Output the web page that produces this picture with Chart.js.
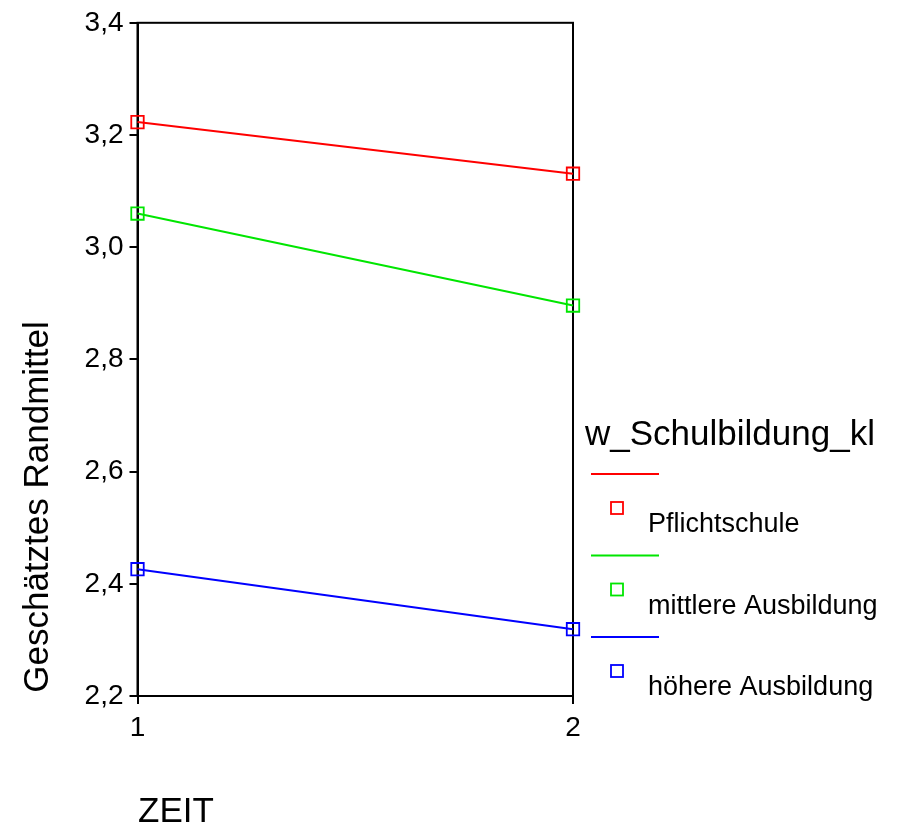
<!DOCTYPE html>
<html>
<head>
<meta charset="utf-8">
<script src="https://cdn.jsdelivr.net/npm/chart.js@4"></script>
<style>
  html, body { margin: 0; padding: 0; background: #fff; }
  #chartCanvas { display: block; }
</style>
</head>
<body>
<canvas id="chartCanvas" width="897" height="827"></canvas>
<script>
// values
const zeit = [1, 2];
const pflichtschule = [3.223, 3.131];
const mittlereAusbildung = [3.060, 2.896];
const hoehereAusbildung = [2.426, 2.319];
const seriesNames = ['Pflichtschule', 'mittlere Ausbildung', 'höhere Ausbildung'];
const seriesColors = ['rgb(255,0,0)', 'rgb(0,230,0)', 'rgb(0,0,255)'];
const yTicks = [2.2, 2.4, 2.6, 2.8, 3.0, 3.2, 3.4];

const legendTitle = 'w_Schulbildung_kl';
const yTitle = 'Geschätztes Randmittel';
const xTitle = 'ZEIT';

const FONT = '"Liberation Sans", Arial, sans-serif';

function toPoints(values) {
    return zeit.map((z, i) => ({ x: z, y: values[i] }));
}

let makeDataset = function (name, values, color) {
    return {
        label: name,
        data: toPoints(values),
        borderColor: color,
        backgroundColor: 'transparent',
        borderWidth: 2,
        pointStyle: 'rect',
        pointRadius: 8.8,
        pointBorderWidth: 1.8,
        pointBorderColor: color,
        pointBackgroundColor: 'transparent',
        tension: 0,
        clip: false
    };
};

// box round the plot, drawn under the lines
const frame = {
    id: 'frame',
    beforeDatasetsDraw(chart) {
        const a = chart.chartArea;
        const ctx = chart.ctx;
        ctx.save();
        ctx.strokeStyle = '#000';
        ctx.lineWidth = 2;
        ctx.strokeRect(a.left, a.top, a.right - a.left, a.bottom - a.top);
        ctx.restore();
    }
};

// axis titles and the SPSS style legend
const extras = {
    id: 'extras',
    afterDraw(chart) {
        const ctx = chart.ctx;
        ctx.save();
        ctx.fillStyle = '#000';

        ctx.font = '35px ' + FONT;
        ctx.textAlign = 'left';
        ctx.textBaseline = 'alphabetic';
        ctx.fillText(xTitle, 138, 822);

        ctx.save();
        ctx.translate(48, 507);
        ctx.rotate(-Math.PI / 2);
        ctx.textAlign = 'center';
        ctx.fillText(yTitle, 0, 0);
        ctx.restore();

        ctx.fillText(legendTitle, 585, 445);

        ctx.font = '27px ' + FONT;
        chart.data.datasets.forEach(function (ds, i) {
            let y0 = 474 + i * 81.5;
            ctx.strokeStyle = ds.borderColor;
            ctx.lineWidth = 2;
            ctx.beginPath();
            ctx.moveTo(591, y0);
            ctx.lineTo(659, y0);
            ctx.stroke();

            ctx.lineWidth = 1.8;
            ctx.strokeRect(611, y0 + 28, 12, 12);

            ctx.fillStyle = '#000';
            ctx.fillText(ds.label, 648, y0 + 58);
        });
        ctx.restore();
    }
};

let config = {
    type: 'line',
    data: {
        datasets: [
            makeDataset(seriesNames[0], pflichtschule, seriesColors[0]),
            makeDataset(seriesNames[1], mittlereAusbildung, seriesColors[1]),
            makeDataset(seriesNames[2], hoehereAusbildung, seriesColors[2])
        ]
    },
    options: {
        responsive: false,
        animation: false,
        layout: { padding: { left: 0, right: 324, top: 21, bottom: 0 } },
        plugins: {
            legend: { display: false },
            tooltip: { enabled: false }
        },
        scales: {
            x: {
                type: 'linear',
                min: zeit[0],
                max: zeit[zeit.length - 1],
                afterFit: s => { s.height = 131; },
                afterBuildTicks: s => { s.ticks = zeit.map(v => ({ value: v })); },
                ticks: {
                    color: '#000',
                    font: { family: FONT, size: 28 },
                    padding: 7,
                    callback: v => String(v)
                },
                grid: {
                    drawOnChartArea: false,
                    drawTicks: true,
                    tickLength: 8,
                    color: '#000',
                    lineWidth: 2
                },
                border: { display: true, color: '#000', width: 2 }
            },
            y: {
                type: 'linear',
                min: yTicks[0],
                max: yTicks[yTicks.length - 1],
                afterFit: s => { s.width = 137.5; },
                afterBuildTicks: s => { s.ticks = yTicks.map(v => ({ value: v })); },
                ticks: {
                    color: '#000',
                    font: { family: FONT, size: 28 },
                    padding: 6,
                    callback: v => v.toFixed(1).replace('.', ',')
                },
                grid: {
                    drawOnChartArea: false,
                    drawTicks: true,
                    tickLength: 8,
                    color: '#000',
                    lineWidth: 2
                },
                border: { display: true, color: '#000', width: 2 }
            }
        }
    },
    plugins: [frame, extras]
};

let chart = new Chart(document.getElementById('chartCanvas').getContext('2d'), config);
</script>
</body>
</html>
